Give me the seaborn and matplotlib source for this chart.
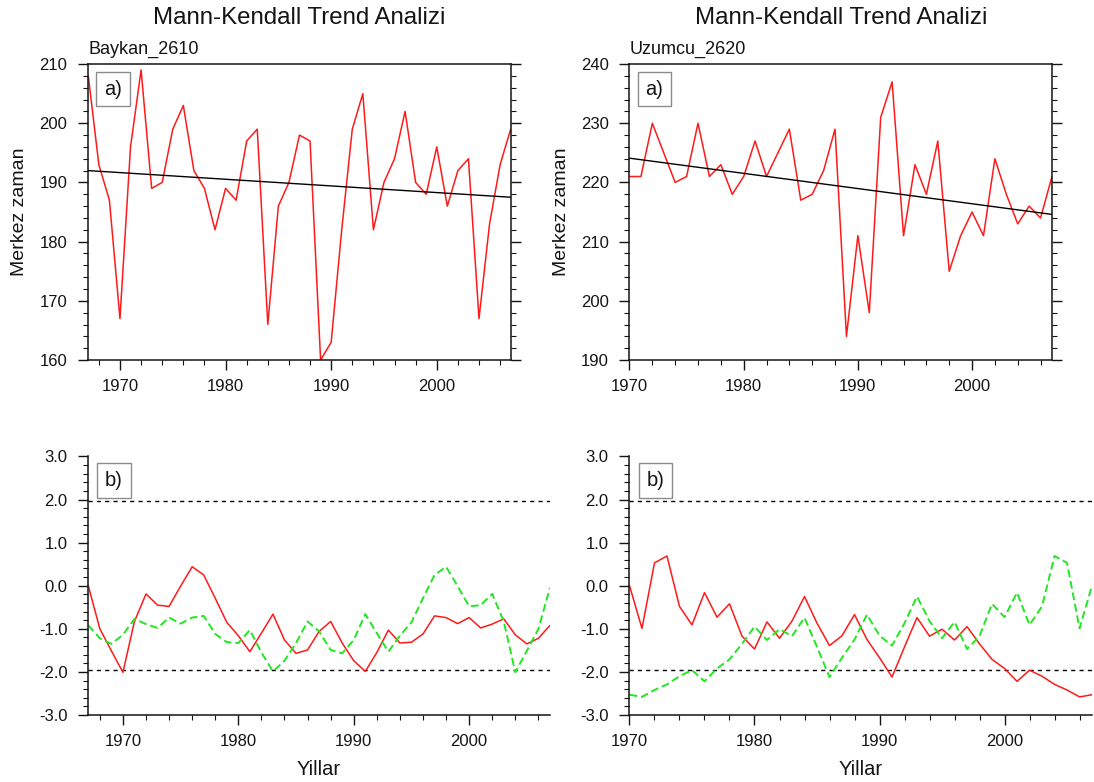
import matplotlib
matplotlib.use("Agg")
import matplotlib.pyplot as plt
from matplotlib.ticker import MultipleLocator, FormatStrFormatter
import seaborn as sns


# --- data --------------------------------------------------------------
YEARS_BAYKAN = list(range(1967, 2008))
YEARS_UZUMCU = list(range(1970, 2008))

BAYKAN_SERIES = [208, 193, 187, 167, 196, 209, 189, 190, 199, 203,
                 192, 189, 182, 189, 187, 197, 199, 166, 186, 190,
                 198, 197, 160, 163, 182, 199, 205, 182, 190, 194,
                 202, 190, 188, 196, 186, 192, 194, 167, 183, 193, 199]
BAYKAN_TREND_YEARS = [1967, 2007]
BAYKAN_TREND = [192.0, 187.5]

UZUMCU_SERIES = [221, 221, 230, 225, 220, 221, 230, 221, 223, 218,
                 221, 227, 221, 225, 229, 217, 218, 222, 229, 194,
                 211, 198, 231, 237, 211, 223, 218, 227, 205, 211,
                 215, 211, 224, 218, 213, 216, 214, 221]
UZUMCU_TREND_YEARS = [1970, 2007]
UZUMCU_TREND = [224.1, 214.6]

# sequential Mann-Kendall: forward u(t) (red) and backward u'(t) (green)
BAYKAN_U = [0.00, -1.00, -1.51, -2.01, -0.83, -0.19, -0.45, -0.48, -0.01, 0.44,
            0.25, -0.29, -0.85, -1.16, -1.53, -1.10, -0.66, -1.26, -1.57, -1.49,
            -1.06, -0.83, -1.33, -1.74, -1.99, -1.55, -1.03, -1.33, -1.31, -1.12,
            -0.70, -0.74, -0.88, -0.74, -0.98, -0.89, -0.77, -1.14, -1.35, -1.22, -0.92]
BAYKAN_UB = [-0.92, -1.22, -1.35, -1.14, -0.77, -0.89, -0.98, -0.74, -0.88, -0.74,
             -0.70, -1.12, -1.31, -1.33, -1.03, -1.55, -1.99, -1.74, -1.33, -0.83,
             -1.06, -1.49, -1.57, -1.26, -0.66, -1.10, -1.53, -1.16, -0.85, -0.29,
             0.25, 0.44, -0.01, -0.48, -0.45, -0.19, -0.83, -2.01, -1.51, -1.00, -0.05]

UZUMCU_U = [0.00, -0.99, 0.53, 0.69, -0.48, -0.91, -0.16, -0.73, -0.42, -1.17,
            -1.47, -0.84, -1.22, -0.82, -0.25, -0.87, -1.39, -1.16, -0.67, -1.25,
            -1.67, -2.12, -1.42, -0.74, -1.17, -1.01, -1.26, -0.95, -1.35, -1.71,
            -1.92, -2.22, -1.96, -2.10, -2.29, -2.42, -2.58, -2.53]
UZUMCU_UB = [-2.53, -2.58, -2.42, -2.29, -2.10, -1.96, -2.22, -1.92, -1.71, -1.35,
             -0.95, -1.26, -1.01, -1.17, -0.74, -1.42, -2.12, -1.67, -1.25, -0.67,
             -1.16, -1.39, -0.87, -0.25, -0.82, -1.22, -0.84, -1.47, -1.17, -0.42,
             -0.73, -0.16, -0.91, -0.48, 0.69, 0.53, -0.99, 0.00]

CRITICAL = 1.96

RED = "#ff1a1a"
GREEN = "#22e622"
INK = "#141414"


def panel_tag(ax, tag, dx, dy):
    ax.annotate(tag, xy=(0, 1), xycoords="axes fraction", xytext=(dx, -dy),
                textcoords="offset points", ha="center", va="center", fontsize=14.5,
                bbox=dict(boxstyle="square,pad=0.38", fc="white", ec="#8c8c8c", lw=1.0))


def style_axis(ax, ymajor, yminor):
    ax.xaxis.set_major_locator(MultipleLocator(10))
    ax.xaxis.set_minor_locator(MultipleLocator(2))
    ax.yaxis.set_major_locator(MultipleLocator(ymajor))
    ax.yaxis.set_minor_locator(MultipleLocator(yminor))
    ax.tick_params(which="major", length=7, width=1.0, color=INK, labelsize=12, labelcolor=INK)
    ax.tick_params(which="minor", length=3.5, width=0.8, color=INK)
    ax.tick_params(axis="x", which="major", pad=7)
    ax.tick_params(axis="y", which="major", pad=8)
    for sp in ax.spines.values():
        sp.set_linewidth(1.1)
        sp.set_color(INK)
    ax.set_xlabel("")
    ax.set_ylabel("")


def top_panel(ax, years, values, trend_years, trend, ylim, station):
    sns.lineplot(x=years, y=values, ax=ax, color=RED, lw=1.1)
    sns.lineplot(x=trend_years, y=trend, ax=ax, color="black", lw=1.0)
    ax.set_xlim(years[0], years[-1])
    ax.set_ylim(*ylim)
    style_axis(ax, 10, 2)
    ax.tick_params(which="both", direction="out", left=True, right=True, top=False, bottom=True)
    # main title sits ~40 px above the frame, station name just above it
    ax.text(0.5, 1.135, "Mann-Kendall Trend Analizi", transform=ax.transAxes,
            ha="center", va="baseline", fontsize=17.3)
    ax.set_title(station, loc="left", fontsize=13, pad=7.7)
    ax.text(-0.162, 0.5, "Merkez zaman", rotation=90, transform=ax.transAxes,
            ha="center", va="center", fontsize=14)
    panel_tag(ax, "a)", 17.8, 18)


def bottom_panel(ax, years, forward, backward):
    ax.axhline(CRITICAL, color="black", lw=1.0, ls=(0, (3, 3)))
    ax.axhline(-CRITICAL, color="black", lw=1.0, ls=(0, (3, 3)))
    sns.lineplot(x=years, y=forward, ax=ax, color=RED, lw=1.1)
    sns.lineplot(x=years, y=backward, ax=ax, color=GREEN, lw=1.4, dashes=(4, 2))
    ax.set_xlim(years[0], years[-1])
    ax.set_ylim(-3, 3)
    style_axis(ax, 1.0, 0.2)
    ax.yaxis.set_major_formatter(FormatStrFormatter("%.1f"))
    ax.spines["top"].set_visible(False)
    ax.spines["right"].set_visible(False)
    ax.tick_params(which="both", direction="out", left=True, right=False, top=False, bottom=True)
    ax.text(0.5, -0.232, "Yillar", transform=ax.transAxes, ha="center", va="baseline", fontsize=14.5)
    panel_tag(ax, "b)", 18.5, 17.3)


def main():
    sns.set_theme(style="ticks")
    plt.rcParams["font.family"] = ["Liberation Sans", "DejaVu Sans"]
    plt.rcParams["axes.unicode_minus"] = False
    plt.rcParams["text.color"] = INK

    fig = plt.figure(figsize=(10.94, 7.82), dpi=100, facecolor="white")
    ax_tl = fig.add_axes([0.0807, 0.5396, 0.3861, 0.3785])
    ax_tr = fig.add_axes([0.5754, 0.5396, 0.3862, 0.3785])
    ax_bl = fig.add_axes([0.0807, 0.0857, 0.4220, 0.3306])
    ax_br = fig.add_axes([0.5754, 0.0857, 0.4228, 0.3306])

    top_panel(ax_tl, YEARS_BAYKAN, BAYKAN_SERIES, BAYKAN_TREND_YEARS, BAYKAN_TREND, (160, 210), "Baykan_2610")
    top_panel(ax_tr, YEARS_UZUMCU, UZUMCU_SERIES, UZUMCU_TREND_YEARS, UZUMCU_TREND, (190, 240), "Uzumcu_2620")
    bottom_panel(ax_bl, YEARS_BAYKAN, BAYKAN_U, BAYKAN_UB)
    bottom_panel(ax_br, YEARS_UZUMCU, UZUMCU_U, UZUMCU_UB)

    fig.savefig("out.png", dpi=100, facecolor="white")
    plt.close(fig)


if __name__ == "__main__":
    main()
